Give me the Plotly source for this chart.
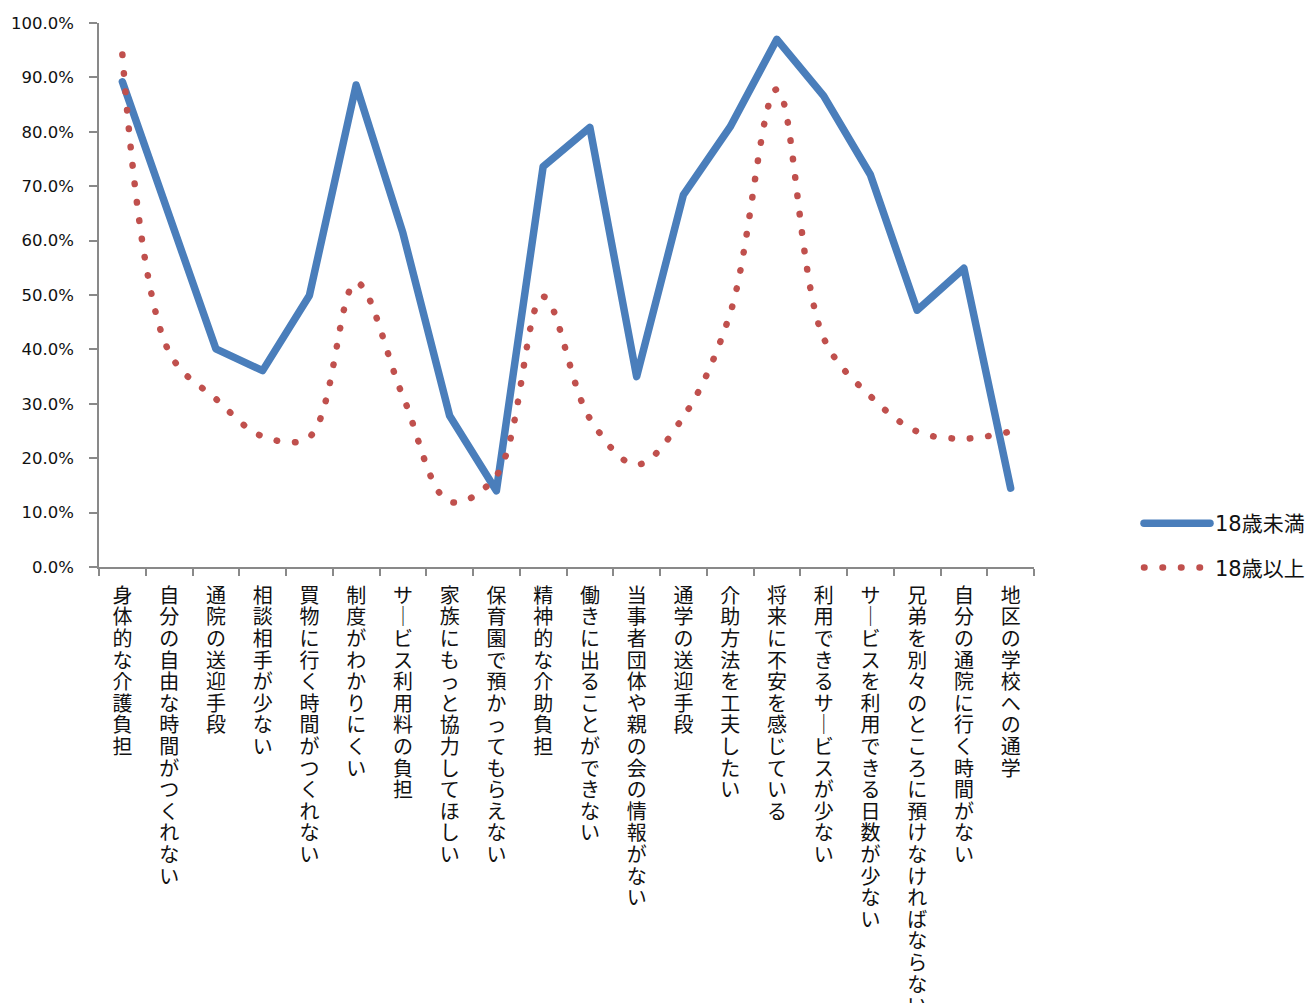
import plotly.graph_objects as go

# Survey items (x-axis categories)
categories = [
    "身体的な介護負担",
    "自分の自由な時間がつくれない",
    "通院の送迎手段",
    "相談相手が少ない",
    "買物に行く時間がつくれない",
    "制度がわかりにくい",
    "サービス利用料の負担",
    "家族にもっと協力してほしい",
    "保育園で預かってもらえない",
    "精神的な介助負担",
    "働きに出ることができない",
    "当事者団体や親の会の情報がない",
    "通学の送迎手段",
    "介助方法を工夫したい",
    "将来に不安を感じている",
    "利用できるサービスが少ない",
    "サービスを利用できる日数が少ない",
    "兄弟を別々のところに預けなければならない",
    "自分の通院に行く時間がない",
    "地区の学校への通学",
]

# Share of respondents (%) by age group
under18 = [89.2, 64.7, 40.1, 36.1, 49.9, 88.6, 61.4, 27.8, 14.0, 73.6,
           80.8, 35.0, 68.4, 80.9, 97.0, 86.6, 72.1, 47.2, 54.9, 14.5]
over18 = [94.2, 39.5, 30.9, 24.0, 23.9, 52.3, 31.4, 12.0, 16.8, 49.7,
          27.3, 18.8, 27.6, 46.6, 87.8, 42.1, 31.4, 24.9, 23.6, 24.9]

series_names = ["18歳未満", "18歳以上"]

CJK = "Noto Sans CJK JP"
LATIN = "DejaVu Sans"
BLUE = "#4A7EBB"
RED = "#C0504D"
AXIS = "#898989"
TEXT = "#111111"

# Vertical typesetting: one character per line, long-vowel mark drawn upright
VERTICAL_FORMS = {"ー": "｜"}


def vertical(label):
    return "<br>".join(VERTICAL_FORMS.get(ch, ch) for ch in label)


x_labels = [vertical(c) for c in categories]

fig = go.Figure()
fig.add_trace(go.Scatter(
    x=x_labels, y=[v / 100 for v in under18], name=series_names[0],
    mode="lines", line=dict(color=BLUE, width=7.5),
    legendgroup="a", hoverinfo="skip",
))
fig.add_trace(go.Scatter(
    x=x_labels, y=[v / 100 for v in over18], name=series_names[1],
    mode="lines", line=dict(color=RED, width=6.5, dash="0.5px,18px",
                            shape="spline", smoothing=1.0),
    legendgroup="b", hoverinfo="skip",
))

fig.update_layout(
    width=1313, height=1003,
    margin=dict(l=99, r=279, t=23, b=436, autoexpand=False),
    paper_bgcolor="white", plot_bgcolor="white",
    font=dict(family=CJK, color=TEXT),
    showlegend=True,
    legend=dict(
        x=1.1123, xanchor="left", y=0.0395, yanchor="middle",
        font=dict(family=f"{LATIN}, {CJK}", size=21, color=TEXT),
        traceorder="grouped", tracegroupgap=14, itemwidth=66,
        bgcolor="rgba(0,0,0,0)",
    ),
    xaxis=dict(
        type="category", range=[-0.5, 19.5], tickson="boundaries",
        ticks="outside", ticklen=7, tickwidth=1.5, tickcolor=AXIS,
        showline=True, linecolor=AXIS, linewidth=1.5,
        showgrid=False, zeroline=False,
        tickfont=dict(family=CJK, size=20, color=TEXT),
        tickangle=0, ticklabelstandoff=10, automargin=False,
    ),
    yaxis=dict(
        range=[0, 1], dtick=0.1, tick0=0, tickformat=".1%",
        ticks="outside", ticklen=8, tickwidth=1.5, tickcolor=AXIS,
        showline=True, linecolor=AXIS, linewidth=1.5,
        showgrid=False, zeroline=False,
        tickfont=dict(family=LATIN, size=16.5, color=TEXT),
        ticklabelstandoff=12, automargin=False,
    ),
)

# Round caps turn the dash pattern into dots; vertical labels get a tighter line pitch
post = """
var gd = document.getElementById('{plot_id}');
gd.querySelectorAll('.scatterlayer .js-line, .legendlines path').forEach(function (p) {
    p.style.strokeLinecap = 'round';
    p.style.strokeLinejoin = 'round';
});
var k = 1.08 / 1.3;
gd.querySelectorAll('.xtick text tspan.line').forEach(function (t) {
    var dy = t.getAttribute('dy');
    if (dy && /em$/.test(dy)) { t.setAttribute('dy', (parseFloat(dy) * k) + 'em'); }
});
"""

fig.write_html("out.html", post_script=post)
